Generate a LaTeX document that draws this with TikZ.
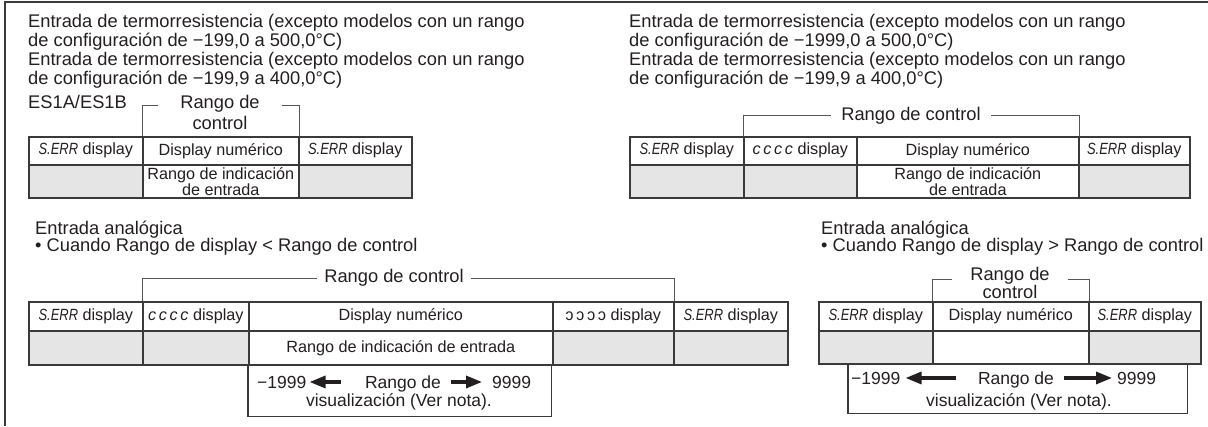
\documentclass[tikz,border=0pt]{standalone}
\usepackage{fontspec}
\setmainfont{Liberation Sans}
\usepackage{graphicx}
\usetikzlibrary{arrows.meta,positioning}
\definecolor{rgink}{HTML}{231F20}
\definecolor{rgline}{HTML}{3A3A3A}
\definecolor{rgthin}{HTML}{555555}
\definecolor{rggrey}{HTML}{E5E5E5}
\newcommand{\serr}{\scalebox{0.8}[1]{\itshape S.ERR}}
\newcommand{\ccdisp}{{\itshape c\,c\,c\,c}}
\newcommand{\rcdisp}{\reflectbox{c\,c\,c\,c}}
\tikzset{
  rg text/.style={font=\fontsize{18.3}{19}\selectfont, text=rgink, inner sep=0pt},
  rg box text/.style={font=\fontsize{17.5}{18}\selectfont, text=rgink, inner sep=0pt},
  rg cell/.style={font=\fontsize{16.2}{14.5}\selectfont, text=rgink, draw=rgline,
    line width=1.6pt, fill=white, minimum height=28pt, inner sep=0pt,
    anchor=north west, align=center},
  rg grey/.style={rg cell, fill=rggrey},
  rg bracket/.style={draw=rgthin, line width=0.9pt},
  rg frame/.style={draw=rgline, line width=2pt},
  rg box/.style={draw=rgline, line width=1.3pt},
  rg arrow/.style={-{Triangle[length=16pt,width=12pt]}, line width=3.2pt, draw=rgink}
}
\begin{document}
\begin{tikzpicture}[x=1pt, y=-1pt, rg text]
  \useasboundingbox (0,0) rectangle (1208,426);
  \draw[rg frame] (1208,2) -- (5,2) -- (5,426);

  \node[rg text, anchor=base west] (tl-l1) at (28,27) {Entrada de termorresistencia (excepto modelos con un rango};
  \node[rg text, anchor=base west] (tl-l2) at (28,46) {de configuración de −199,0 a 500,0°C)};
  \node[rg text, anchor=base west] (tl-l3) at (28,65) {Entrada de termorresistencia (excepto modelos con un rango};
  \node[rg text, anchor=base west] (tl-l4) at (28,84) {de configuración de −199,9 a 400,0°C)};
  \node[rg text, anchor=base west] (tl-l5) at (28,108) {ES1A/ES1B};
  \node[rg text, anchor=base, inner xsep=22pt] (tl-r1) at (220,108) {Rango de};
  \node[rg text, anchor=base] (tl-r2) at (220,129) {control};
  \foreach \n/\x/\w/\txt in {1/28/114/{\serr\ display},2/142/156/Display numérico,3/298/113/{\serr\ display}}
    \node[rg cell, minimum width=\w pt] (tl-a\n) at (\x,136) {\txt};
  \node[rg grey, minimum width=114pt, minimum height=33pt] (tl-b1) at (28,164) {};
  \node[rg cell, minimum width=156pt, minimum height=33pt] (tl-b2) at (142,164) {Rango de indicación\\de entrada};
  \node[rg grey, minimum width=113pt, minimum height=33pt] (tl-b3) at (298,164) {};
  \draw[rg bracket] (tl-a2.north west) |- ([yshift=3pt]tl-r1.base west);
  \draw[rg bracket] (tl-a2.north east) |- ([yshift=3pt]tl-r1.base east);

  \node[rg text, anchor=base west] (tr-l1) at (629,27) {Entrada de termorresistencia (excepto modelos con un rango};
  \node[rg text, anchor=base west] (tr-l2) at (629,46) {de configuración de −1999,0 a 500,0°C)};
  \node[rg text, anchor=base west] (tr-l3) at (629,65) {Entrada de termorresistencia (excepto modelos con un rango};
  \node[rg text, anchor=base west] (tr-l4) at (629,84) {de configuración de −199,9 a 400,0°C)};
  \node[rg text, anchor=base, inner xsep=10pt] (tr-r) at (911,120) {Rango de control};
  \foreach \n/\x/\w/\txt in {1/629/114/{\serr\ display},2/743/113/{\ccdisp\ display},3/856/222/Display numérico,4/1078/111/{\serr\ display}}
    \node[rg cell, minimum width=\w pt] (tr-a\n) at (\x,136) {\txt};
  \node[rg grey, minimum width=114pt, minimum height=33pt] (tr-b1) at (629,164) {};
  \node[rg grey, minimum width=113pt, minimum height=33pt] (tr-b2) at (743,164) {};
  \node[rg cell, minimum width=222pt, minimum height=33pt] (tr-b3) at (856,164) {Rango de indicación\\de entrada};
  \node[rg grey, minimum width=111pt, minimum height=33pt] (tr-b4) at (1078,164) {};
  \draw[rg bracket] (tr-a2.north west) |- (tr-r.west);
  \draw[rg bracket] (tr-a3.north east) |- (tr-r.east);

  \node[rg text, anchor=base west] (bl-l1) at (35,234) {Entrada analógica};
  \node[rg text, anchor=base west] (bl-l2) at (35,251) {\textbullet\ Cuando Rango de display < Rango de control};
  \node[rg text, inner xsep=7pt] (bl-r) at (394,278) {Rango de control};
  \foreach \n/\x/\w/\txt in {1/28/114/{\serr\ display},2/142/106/{\ccdisp\ display},3/248/304/Display numérico,4/552/121/{\rcdisp\ display},5/673/114/{\serr\ display}}
    \node[rg cell, minimum width=\w pt, minimum height=29pt] (bl-a\n) at (\x,301) {\txt};
  \node[rg grey, minimum width=114pt, minimum height=34pt] (bl-b1) at (28,330) {};
  \node[rg grey, minimum width=106pt, minimum height=34pt] (bl-b2) at (142,330) {};
  \node[rg cell, minimum width=304pt, minimum height=34pt] (bl-b3) at (248,330) {Rango de indicación de entrada};
  \node[rg grey, minimum width=121pt, minimum height=34pt] (bl-b4) at (552,330) {};
  \node[rg grey, minimum width=114pt, minimum height=34pt] (bl-b5) at (673,330) {};
  \draw[rg bracket] (bl-a2.north west) |- (bl-r.west);
  \draw[rg bracket] (bl-a4.north east) |- (bl-r.east);
  \node[minimum width=303pt, minimum height=52pt, inner sep=0pt, anchor=north west] (bl-box) at (248,364) {};
  \draw[rg box] (bl-box.north west) |- (bl-box.south east) -- (bl-box.north east);
  \node[rg box text, anchor=base west] (bl-min) at (257,388) {−1999};
  \node[rg box text, anchor=base] (bl-rng) at (403,388) {Rango de};
  \node[rg box text, anchor=base west] (bl-max) at (492,388) {9999};
  \node[rg box text, anchor=base] (bl-vis) at (399,406) {visualización (Ver nota).};
  \draw[rg arrow, shorten <=24pt, shorten >=3pt] (bl-min.east -| bl-rng.west) -- (bl-min.east);
  \draw[rg arrow, shorten <=10pt, shorten >=10pt] (bl-max.west -| bl-rng.east) -- (bl-max.west);

  \node[rg text, anchor=base west] (br-l1) at (821,234) {Entrada analógica};
  \node[rg text, anchor=base west] (br-l2) at (821,251) {\textbullet\ Cuando Rango de display > Rango de control};
  \node[rg text, anchor=base, inner xsep=18pt] (br-r1) at (1010,280) {Rango de};
  \node[rg text, anchor=base] (br-r2) at (1010,298) {control};
  \foreach \n/\x/\w/\txt in {1/818/114/{\serr\ display},2/932/156/Display numérico,3/1088/112/{\serr\ display}}
    \node[rg cell, minimum width=\w pt, minimum height=29pt] (br-a\n) at (\x,301) {\txt};
  \node[rg grey, minimum width=114pt, minimum height=33pt] (br-b1) at (818,330) {};
  \node[rg cell, minimum width=156pt, minimum height=33pt] (br-b2) at (932,330) {};
  \node[rg grey, minimum width=112pt, minimum height=33pt] (br-b3) at (1088,330) {};
  \draw[rg bracket] (br-a2.north west) |- ([yshift=1pt]br-r1.base west);
  \draw[rg bracket] (br-a2.north east) |- ([yshift=1pt]br-r1.base east);
  \node[minimum width=339pt, minimum height=50pt, inner sep=0pt, anchor=north west] (br-box) at (848,363) {};
  \draw[rg box] (br-box.north west) |- (br-box.south east) -- (br-box.north east);
  \node[rg box text, anchor=base west] (br-min) at (851,384) {−1999};
  \node[rg box text, anchor=base] (br-rng) at (1016,384) {Rango de};
  \node[rg box text, anchor=base west] (br-max) at (1117,384) {9999};
  \node[rg box text, anchor=base] (br-vis) at (1019,406) {visualización (Ver nota).};
  \draw[rg arrow, shorten <=22pt, shorten >=5pt] (br-min.east -| br-rng.west) -- (br-min.east);
  \draw[rg arrow, shorten <=10pt, shorten >=5pt] (br-max.west -| br-rng.east) -- (br-max.west);
\end{tikzpicture}
\end{document}
